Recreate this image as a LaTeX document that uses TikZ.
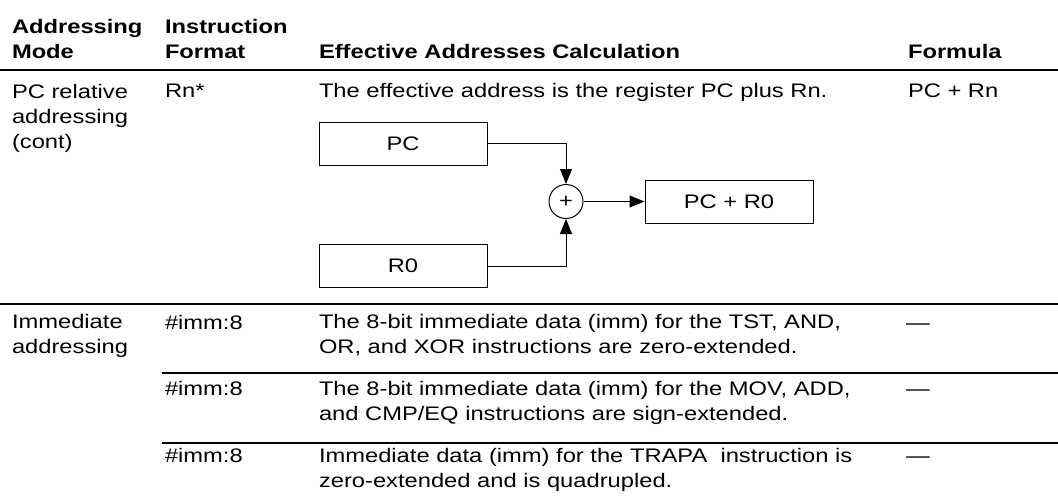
\documentclass[tikz,border=0pt]{standalone}
\usepackage{fontspec}
\setmainfont[FakeStretch=1.21]{Liberation Sans}
\usetikzlibrary{arrows.meta,positioning}

\begin{document}
\begin{tikzpicture}[x=0.5pt, y=-0.5pt,
		txt/.style={anchor=base west, inner sep=0pt, outer sep=0pt, align=left,
			font=\fontsize{9.8pt}{12.5pt}\selectfont},
		hdr/.style={txt, font=\fontsize{9.8pt}{12.5pt}\selectfont\bfseries},
		regbox/.style={draw, line width=0.5pt, minimum width=84pt, minimum height=21.5pt,
			inner sep=0pt, font=\fontsize{9.8pt}{12.5pt}\selectfont},
		sumnode/.style={draw, circle, line width=0.5pt, minimum size=17pt, inner sep=0pt,
			font=\fontsize{9.8pt}{12.5pt}\selectfont},
		dashmark/.style={txt, font=\fontsize{9.8pt}{12.5pt}\selectfont},
		>={Triangle[length=7.5pt, width=6pt]}]
		\useasboundingbox (0,0) rectangle (1058,503);
		% Header
		\node[hdr] (modeh) at (12,58) {Addressing\\Mode};
		\node[hdr] (fmth) at (165,58) {Instruction\\Format};
		\node[hdr] (calch) at (319,58) {Effective Addresses Calculation};
		\node[hdr] (formh) at (908,58) {Formula};
		\draw[line width=1.2pt] (0,70) -- (1058,70);
		
		% PC relative row
		\node[txt] (pcmode) at (12,148) {PC relative\\addressing\\(cont)};
		\node[txt] (rnfmt) at (165,97) {Rn*};
		\node[txt] (pcdesc) at (319,97) {The effective address is the register PC plus Rn.};
		\node[txt] (pcform) at (908,97) {PC + Rn};
		
		% Define nodes
		\node[regbox] (pc) at (403,143.5) {PC};
		\node[regbox] (r0) at (403,266) {R0};
		\node[sumnode] (sum) at (566,201.5) {+};
		\node[regbox] (res) at (729,201.5) {PC + R0};
		
		% Draw arrows
		\draw[->, line width=0.5pt] (pc.east) -| (sum.north);
		\draw[->, line width=0.5pt] (r0.east) -| (sum.south);
		\draw[->, line width=0.5pt] (sum) -- (res);
		\draw[line width=0.65pt] (0,304) -- (1058,304);
		
		% Immediate rows
		\node[txt] (immmode) at (12,353) {Immediate\\addressing};
		\node[txt] (immfmta) at (165,329) {\#imm:8};
		\node[txt] (immdesca) at (319,353) {The 8-bit immediate data (imm) for the TST, AND,\\OR, and XOR instructions are zero-extended.};
		\node[dashmark] (immforma) at (906,329) {—};
		\draw[line width=0.65pt] (162,373) -- (1058,373);
		\node[txt] (immfmtb) at (165,395) {\#imm:8};
		\node[txt] (immdescb) at (319,420) {The 8-bit immediate data (imm) for the MOV, ADD,\\and CMP/EQ instructions are sign-extended.};
		\node[dashmark] (immformb) at (906,395) {—};
		\draw[line width=0.65pt] (162,443) -- (1058,443);
		\node[txt] (immfmtc) at (165,462) {\#imm:8};
		\node[txt] (immdescc) at (319,487) {Immediate data (imm) for the TRAPA\ \ instruction is\\zero-extended and is quadrupled.};
		\node[dashmark] (immformc) at (906,462) {—};
	\end{tikzpicture}
\end{document}
